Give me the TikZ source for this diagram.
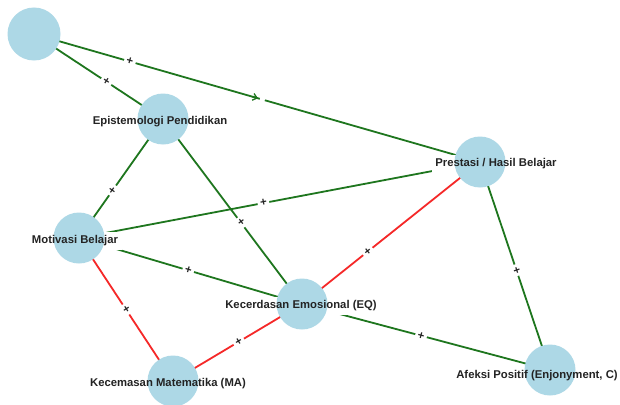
\documentclass[tikz,border=0pt]{standalone}
\usepackage{fontspec}
\setmainfont{Liberation Sans}
\usetikzlibrary{arrows.meta}
\definecolor{egreen}{RGB}{30,118,30}
\definecolor{ered}{RGB}{245,40,40}
\definecolor{nblue}{RGB}{173,216,230}
\definecolor{tgray}{RGB}{35,35,35}
\tikzset{
  edgeg/.style={draw=egreen, line width=1.8pt},
  edger/.style={draw=ered, line width=1.8pt},
  elab/.style={sloped, fill=white, inner xsep=2.5pt, inner ysep=1.5pt, text=tgray, font=\fontsize{11.5}{12}\selectfont\bfseries},
  circnode/.style={circle, fill=nblue, draw=none, minimum size=51pt, inner sep=0pt},
  labbg/.style={fill=white, text=white, inner sep=3.5pt, font=\fontsize{11.3}{13}\selectfont\bfseries},
  labtxt/.style={inner sep=0pt, text=tgray, font=\fontsize{11.3}{13}\selectfont\bfseries},
}
\begin{document}
\begin{tikzpicture}[x=1pt,y=-1pt]
\useasboundingbox[fill=white] (0,0) rectangle (620,404);
% node centres
\coordinate (A) at (34,34);
\coordinate (E) at (163,119);
\coordinate (P) at (480,162);
\coordinate (M) at (79,238);
\coordinate (Q) at (302,304);
\coordinate (K) at (173,381);
\coordinate (F) at (550,370);
% edges
\draw[edgeg] (A) -- (P);
\draw[edgeg] (A) -- (E);
\draw[edgeg] (E) -- (M);
\draw[edgeg] (E) -- (Q);
\draw[edgeg] (M) -- (P);
\draw[edgeg] (M) -- (Q);
\draw[edger] (M) -- (K);
\draw[edger] (K) -- (Q);
\draw[edger] (Q) -- (P);
\draw[edgeg] (P) -- (F);
\draw[edgeg] (Q) -- (F);
% arrow mark on A--P
\path (A) -- (P) node[pos=0.512, sloped, fill=white, inner sep=0pt, minimum width=5pt, minimum height=5pt] (gapAP) {};
\path (A) -- (P) coordinate[pos=0.49] (arrA) coordinate[pos=0.502] (arrB);
\draw[edgeg, -{Straight Barb[length=4pt,width=7pt,line width=1.3pt]}] (arrA) -- (arrB);
% edge labels
\path (A) -- (P) node[elab, pos=0.215] (l1) {+};
\path (A) -- (E) node[elab, pos=0.56] (l2) {+};
\path (E) -- (M) node[elab, pos=0.6] (l3) {+};
\path (E) -- (Q) node[elab, pos=0.56] (l4) {+};
\path (M) -- (P) node[elab, pos=0.46] (l5) {+};
\path (M) -- (Q) node[elab, pos=0.49] (l6) {+};
\path (M) -- (K) node[elab, pos=0.5] (l7) {+};
\path (K) -- (Q) node[elab, pos=0.51] (l8) {+};
\path (Q) -- (P) node[elab, pos=0.37] (l9) {+};
\path (P) -- (F) node[elab, pos=0.52] (l10) {+};
\path (Q) -- (F) node[elab, pos=0.48] (l11) {+};
% label backgrounds
\node[labbg] at (160,122) {Epistemologi Pendidikan};
\node[labbg] at (496,164) {Prestasi / Hasil Belajar};
\node[labbg] at (75,241) {Motivasi Belajar};
\node[labbg] at (301,306) {Kecerdasan Emosional (EQ)};
\node[labbg] at (168,384) {Kecemasan Matematika (MA)};
\node[labbg] at (537,376) {Afeksi Positif (Enjonyment, C)};
% circles
\node[circnode, minimum size=53pt] (Ac) at (A) {};
\node[circnode] (Ec) at (E) {};
\node[circnode] (Pc) at (P) {};
\node[circnode] (Mc) at (M) {};
\node[circnode] (Qc) at (Q) {};
\node[circnode] (Kc) at (K) {};
\node[circnode] (Fc) at (F) {};
% label texts
\node[labtxt] (Et) at (160,122) {Epistemologi Pendidikan};
\node[labtxt] (Pt) at (496,164) {Prestasi / Hasil Belajar};
\node[labtxt] (Mt) at (75,241) {Motivasi Belajar};
\node[labtxt] (Qt) at (301,306) {Kecerdasan Emosional (EQ)};
\node[labtxt] (Kt) at (168,384) {Kecemasan Matematika (MA)};
\node[labtxt] (Ft) at (537,376) {Afeksi Positif (Enjonyment, C)};
\end{tikzpicture}
\end{document}
